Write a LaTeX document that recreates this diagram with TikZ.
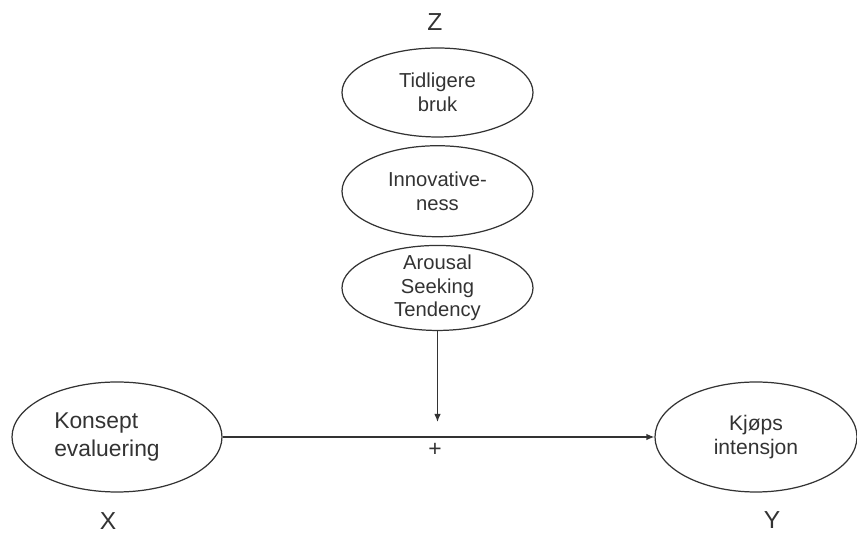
\documentclass[tikz,border=0pt]{standalone}
\usepackage{fontspec}
\setmainfont{Liberation Sans}
\usetikzlibrary{positioning, arrows.meta, shapes.geometric}

\begin{document}
\begin{tikzpicture}[node distance={1.5mm}, line width=0.7pt, color=black!80,
        main/.style = {draw, ellipse, align=center, inner xsep=0pt, inner ysep=-6pt, font=\fontsize{11.5}{13.5}\selectfont},
        letter/.style = {inner sep=0pt, font=\fontsize{14}{16}\selectfont}]
            \useasboundingbox (0,0) rectangle (17.14,10.66);
            \node[letter] (Z) at (8.70,10.22) {Z};
            \node[main, minimum width=3.82cm, minimum height=1.78cm] (tidl) at (8.75,8.81) {Tidligere\\bruk};
            \node[main, minimum width=3.82cm, minimum height=1.82cm] (innov) [below=of tidl] {Innovative-\\ness};
            \node[main, minimum width=3.82cm, minimum height=1.70cm] (arous) [below=of innov] {Arousal\\Seeking\\Tendency};
            \node[main, align=left, font=\fontsize{13}{16}\selectfont, minimum width=4.2cm, minimum height=2.2cm] (konsept) at (2.34,1.92) {Konsept\\evaluering\hspace*{0.4cm}};
            \node[main, font=\fontsize{12}{14}\selectfont, minimum width=4.04cm, minimum height=2.2cm] (kjops) at (15.12,1.92) {Kjøps\\intensjon};
            \node[letter] (X) at (2.16,0.24) {X};
            \node[letter] (Y) at (15.44,0.26) {Y};
            \node[font=\fontsize{13}{15}\selectfont] (pluss) at (8.70,1.66) {+};
            \coordinate (moderator) at (8.75,2.22);
            \draw[-{Latex[length=1.6mm, width=1.3mm]}] (konsept) -- (kjops);
            \draw[-{Latex[length=1.6mm, width=1.3mm]}] (arous) -- (moderator);
        \end{tikzpicture}
\end{document}
